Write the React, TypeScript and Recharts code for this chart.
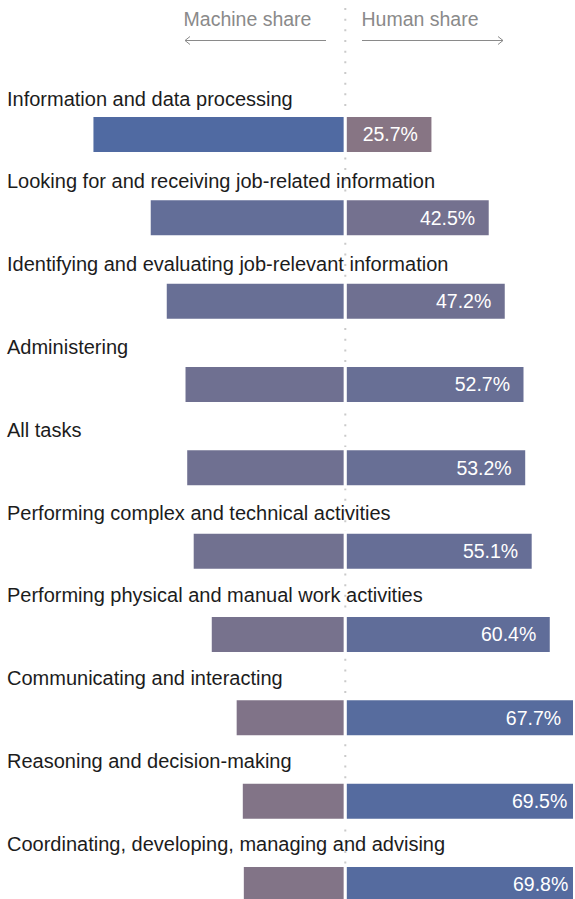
import { BarChart, Bar, XAxis, YAxis, Cell, LabelList } from 'recharts';

const categories = [
  'Information and data processing',
  'Looking for and receiving job-related information',
  'Identifying and evaluating job-relevant information',
  'Administering',
  'All tasks',
  'Performing complex and technical activities',
  'Performing physical and manual work activities',
  'Communicating and interacting',
  'Reasoning and decision-making',
  'Coordinating, developing, managing and advising',
];

const humanShare = [25.7, 42.5, 47.2, 52.7, 53.2, 55.1, 60.4, 67.7, 69.5, 69.8];
const machineShare = [74.3, 57.5, 52.8, 47.3, 46.8, 44.9, 39.6, 32.3, 30.5, 30.2];

const data = categories.map((name, i) => ({
  name,
  human: humanShare[i],
  machine: -machineShare[i],
}));

// mauve for small shares, blue for large ones
const low = [136, 117, 132];
const high = [79, 106, 162];
function shareColor(v: number) {
  const t = Math.min(1, Math.max(0, (Math.abs(v) - 25) / 50));
  const c = low.map((l, k) => Math.round(l + (high[k] - l) * t));
  return `rgb(${c[0]},${c[1]},${c[2]})`;
}

const FONT = '"Liberation Sans", Arial, sans-serif';

// row titles sit above each bar (a touch tighter than the bar spacing)
const renderRowLabel = (props: any) => {
  const { y, payload, index } = props;
  return (
    <text x={7} y={y - 28.5 - index * 0.55} fill="#1c1c1c" fontSize={20} fontFamily={FONT}>
      {payload.value}
    </text>
  );
};

const Header = () => (
  <svg
    width={573}
    height={899}
    style={{ position: 'absolute', left: 0, top: 0 }}
  >
    <line
      x1={345.3}
      x2={345.3}
      y1={8}
      y2={899}
      stroke="#cacaca"
      strokeWidth={2}
      strokeDasharray="2 8.67"
    />
    <text x={247.5} y={26} textAnchor="middle" fill="#8a8a8a" fontSize={19.5} fontFamily={FONT}>
      Machine share
    </text>
    <text x={420} y={26} textAnchor="middle" fill="#8a8a8a" fontSize={19.5} fontFamily={FONT}>
      Human share
    </text>
    <g stroke="#8a8a8a" strokeWidth={1} fill="none">
      <line x1={185} x2={326} y1={40.5} y2={40.5} />
      <polyline points="190,36.5 185,40.5 190,44.5" />
      <line x1={362} x2={503} y1={40.5} y2={40.5} />
      <polyline points="498,36.5 503,40.5 498,44.5" />
    </g>
  </svg>
);

export default function App() {
  return (
    <>
      <style>{'html, body { margin: 0; padding: 0; }'}</style>
      <div
        style={{
          position: 'relative',
          width: 573,
          height: 899,
          overflow: 'hidden',
          fontFamily: FONT,
        }}
      >
        <Header />
        <BarChart
          width={590}
          height={899}
          data={data}
          layout="vertical"
          stackOffset="sign"
          barSize={38}
          margin={{ top: 92.5, right: 0, bottom: -26.8, left: 0 }}
        >
          <XAxis type="number" domain={[-100.97, 71.76]} hide />
          <YAxis
            type="category"
            dataKey="name"
            width={1}
            axisLine={false}
            tickLine={false}
            interval={0}
            tick={renderRowLabel}
          />
          <Bar dataKey="machine" stackId="s" stroke="#fff" strokeWidth={3} isAnimationActive={false}>
            {data.map((d, i) => (
              <Cell key={i} fill={shareColor(d.machine)} />
            ))}
          </Bar>
          <Bar dataKey="human" stackId="s" stroke="#fff" strokeWidth={3} isAnimationActive={false}>
            {data.map((d, i) => (
              <Cell key={i} fill={shareColor(d.human)} />
            ))}
            <LabelList
              dataKey="human"
              position="insideRight"
              offset={15}
              fill="#fff"
              fontSize={19.5}
              fontFamily={FONT}
              formatter={(v: any) => `${v}%`}
            />
          </Bar>
        </BarChart>
      </div>
    </>
  );
}
